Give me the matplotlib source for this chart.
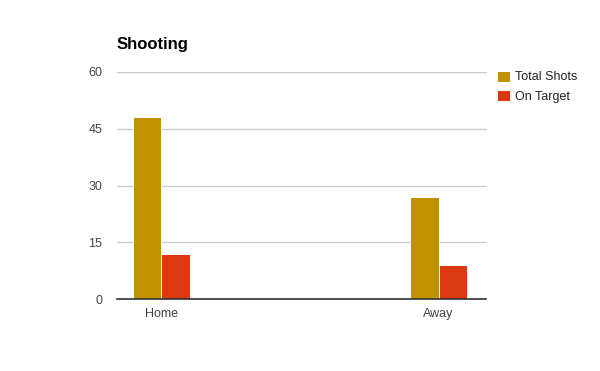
import matplotlib
matplotlib.use("Agg")
from matplotlib import pyplot as P
import numpy as N

categories = ["Home", "Away"]
total_shots = [48, 27]
on_target = [12, 9]
series_names = ["Total Shots", "On Target"]
y_ticks = [0, 15, 30, 45, 60]

P.rcParams['font.family'] = ['Liberation Sans', 'DejaVu Sans']

W, H = 600, 371
fig = P.figure(figsize=(W / 100.0, H / 100.0), dpi=100, facecolor='w')
ax = fig.add_axes([117.0 / W, (H - 299.3) / H, 369.5 / W, 227.6 / H])

x = N.arange(len(categories))
bw = 0.103
ax.bar(x - bw / 2, total_shots, width=bw, color='#c09100', edgecolor='w', linewidth=0.7,
       label=series_names[0], zorder=3)
ax.bar(x + bw / 2, on_target, width=bw, color='#dc3912', edgecolor='w', linewidth=0.7,
       label=series_names[1], zorder=3)

ax.set_xlim(-0.1606, 1.173)
ax.set_ylim(0, 60)
ax.set_yticks(y_ticks)
ax.set_xticks(x)
ax.set_xticklabels(categories)
ax.grid(axis='y', color='#cccccc', linewidth=1, zorder=0)
for side in ['top', 'right', 'left']:
    ax.spines[side].set_visible(False)
ax.spines['bottom'].set_color('#333333')
ax.spines['bottom'].set_linewidth(1.2)
ax.spines['bottom'].set_zorder(4)
ax.tick_params(axis='both', length=0, labelsize=9, colors='#444444')
ax.tick_params(axis='y', pad=10.5)
ax.tick_params(axis='x', pad=6)

fig.text(117.0 / W, (H - 49.3) / H, "Shooting", fontsize=12, fontweight='bold',
         color='k', ha='left', va='baseline')

fig.legend(loc='upper left', bbox_to_anchor=(497.0 / W, (H - 70.5) / H), frameon=False,
           fontsize=9, handlelength=1.0, handleheight=1.0, handletextpad=0.45,
           labelspacing=0.55, borderpad=0, borderaxespad=0, labelcolor='#222222')

fig.savefig("out.png", dpi=100, facecolor='w')
